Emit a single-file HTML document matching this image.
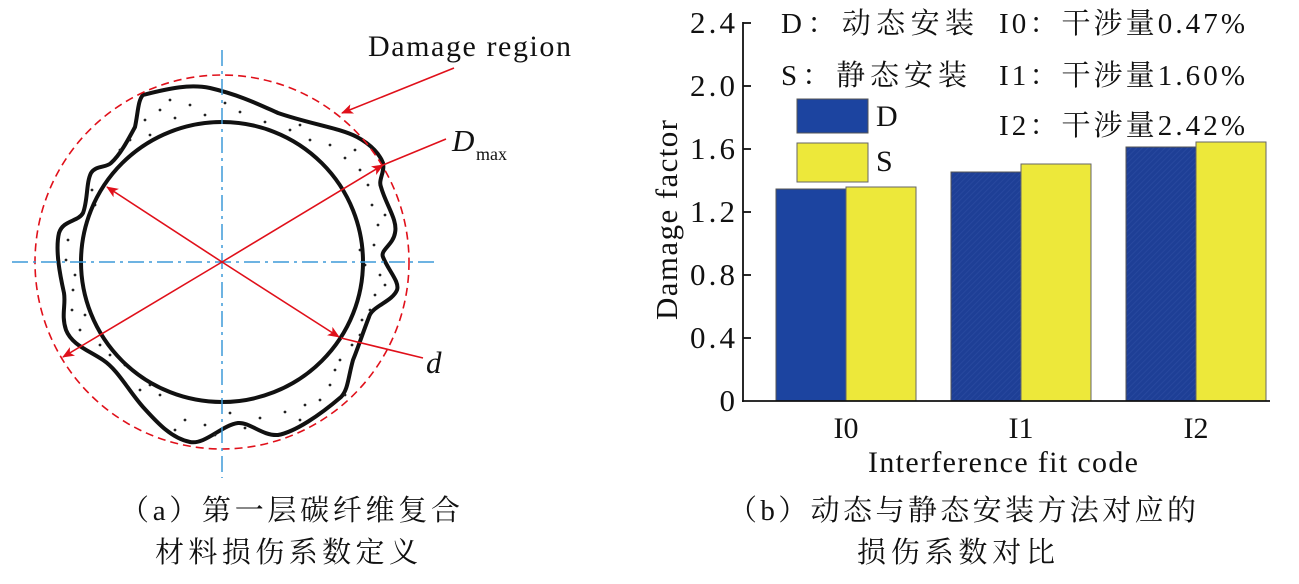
<!DOCTYPE html>
<html><head><meta charset="utf-8"><style>
html,body{margin:0;padding:0;background:#fff;width:1299px;height:584px;overflow:hidden}
svg text{font-family:"Liberation Serif","Noto Serif CJK SC",serif;fill:#111}
</style></head><body>
<svg width="1299" height="584" viewBox="0 0 1299 584" xmlns="http://www.w3.org/2000/svg">
<defs>
<marker id="ah" markerWidth="12" markerHeight="10" refX="11" refY="5" orient="auto" markerUnits="userSpaceOnUse">
<path d="M0,0 L12,5 L0,10 L3,5 Z" fill="#e0101a"/></marker>
<pattern id="hatch" width="4" height="4" patternUnits="userSpaceOnUse" patternTransform="rotate(45)">
<rect width="4" height="4" fill="#1e3f96"/><line x1="0" y1="0" x2="0" y2="4" stroke="#2a4aa0" stroke-width="1.5"/></pattern>
</defs>

<path d="M143,95 C170,88 190,84 210,88 C240,95 260,105 278,113 C310,124 340,128 357,137 C372,145 380,155 383,163 C385,172 378,180 381,187 C386,205 398,220 395,233 C393,245 380,250 383,257 C388,270 400,282 397,290 C392,302 372,306 369,317 C362,335 358,348 353,360 C348,378 348,390 341,397 C320,415 295,432 278,435 C262,436 250,422 238,423 C222,425 205,445 190,442 C170,438 155,420 143,407 C128,390 118,370 103,360 C88,350 72,345 66,330 C61,315 66,305 64,293 C60,275 55,250 59,233 C63,220 78,222 83,213 C88,200 86,183 91,173 C96,165 106,168 111,163 C120,155 128,140 135,127 C138,113 138,100 143,95 Z" fill="#fff" stroke="#111" stroke-width="4"/>
<g fill="#222">
<circle cx="160" cy="110" r="1.4"/><circle cx="175" cy="118" r="1.4"/><circle cx="190" cy="105" r="1.4"/><circle cx="205" cy="115" r="1.4"/><circle cx="240" cy="112" r="1.4"/><circle cx="265" cy="122" r="1.4"/><circle cx="290" cy="130" r="1.4"/><circle cx="310" cy="140" r="1.4"/><circle cx="330" cy="145" r="1.4"/><circle cx="345" cy="158" r="1.4"/><circle cx="360" cy="170" r="1.4"/><circle cx="368" cy="185" r="1.4"/><circle cx="372" cy="205" r="1.4"/><circle cx="378" cy="225" r="1.4"/><circle cx="374" cy="245" r="1.4"/><circle cx="380" cy="275" r="1.4"/><circle cx="375" cy="295" r="1.4"/><circle cx="362" cy="320" r="1.4"/><circle cx="352" cy="345" r="1.4"/><circle cx="335" cy="370" r="1.4"/><circle cx="330" cy="385" r="1.4"/><circle cx="305" cy="405" r="1.4"/><circle cx="285" cy="412" r="1.4"/><circle cx="260" cy="418" r="1.4"/><circle cx="230" cy="413" r="1.4"/><circle cx="205" cy="425" r="1.4"/><circle cx="185" cy="420" r="1.4"/><circle cx="160" cy="395" r="1.4"/><circle cx="150" cy="385" r="1.4"/><circle cx="125" cy="365" r="1.4"/><circle cx="100" cy="345" r="1.4"/><circle cx="80" cy="330" r="1.4"/><circle cx="72" cy="310" r="1.4"/><circle cx="73" cy="290" r="1.4"/><circle cx="66" cy="260" r="1.4"/><circle cx="68" cy="240" r="1.4"/><circle cx="92" cy="190" r="1.4"/><circle cx="120" cy="150" r="1.4"/><circle cx="145" cy="120" r="1.4"/><circle cx="150" cy="135" r="1.4"/><circle cx="360" cy="250" r="1.4"/><circle cx="370" cy="310" r="1.4"/><circle cx="320" cy="400" r="1.4"/><circle cx="345" cy="395" r="1.4"/><circle cx="215" cy="435" r="1.4"/><circle cx="85" cy="315" r="1.4"/>
<circle cx="170" cy="100" r="1.4"/><circle cx="225" cy="103" r="1.4"/><circle cx="300" cy="125" r="1.4"/><circle cx="355" cy="150" r="1.4"/><circle cx="385" cy="215" r="1.4"/><circle cx="365" cy="265" r="1.4"/><circle cx="385" cy="285" r="1.4"/><circle cx="360" cy="335" r="1.4"/><circle cx="340" cy="360" r="1.4"/><circle cx="300" cy="420" r="1.4"/><circle cx="245" cy="428" r="1.4"/><circle cx="175" cy="430" r="1.4"/><circle cx="140" cy="390" r="1.4"/><circle cx="110" cy="355" r="1.4"/><circle cx="75" cy="275" r="1.4"/><circle cx="95" cy="205" r="1.4"/><circle cx="130" cy="140" r="1.4"/>
</g>
<ellipse cx="222" cy="262" rx="141" ry="140" fill="none" stroke="#111" stroke-width="4"/>
<circle cx="222" cy="262" r="187" fill="none" stroke="#e0101a" stroke-width="1.6" stroke-dasharray="8,5"/>
<line x1="222" y1="50" x2="222" y2="478" stroke="#3d9ad8" stroke-width="1.5" stroke-dasharray="16,5,3,5"/>
<line x1="12" y1="262" x2="435" y2="262" stroke="#3d9ad8" stroke-width="1.5" stroke-dasharray="16,5,3,5"/>
<line x1="222" y1="262" x2="383" y2="165" stroke="#e0101a" stroke-width="1.6" marker-end="url(#ah)"/>
<line x1="222" y1="262" x2="63" y2="357" stroke="#e0101a" stroke-width="1.6" marker-end="url(#ah)"/>
<line x1="222" y1="262" x2="107" y2="187" stroke="#e0101a" stroke-width="1.6" marker-end="url(#ah)"/>
<line x1="222" y1="262" x2="339" y2="337" stroke="#e0101a" stroke-width="1.6" marker-end="url(#ah)"/>
<line x1="446" y1="139" x2="383" y2="165" stroke="#e0101a" stroke-width="1.6"/>
<line x1="341" y1="338" x2="423" y2="358" stroke="#e0101a" stroke-width="1.6"/>
<line x1="454" y1="68" x2="342" y2="113" stroke="#e0101a" stroke-width="1.6" marker-end="url(#ah)"/>
<text x="368" y="56" font-size="30" textLength="203">Damage region</text>
<text x="452" y="151" font-size="31" font-style="italic">D</text>
<text x="476" y="160" font-size="18">max</text>
<text x="426" y="373" font-size="31" font-style="italic">d</text>

<g font-size="31">
<text x="690" y="33" textLength="45">2.4</text>
<text x="690" y="96" textLength="45">2.0</text>
<text x="690" y="159" textLength="45">1.6</text>
<text x="690" y="222" textLength="45">1.2</text>
<text x="690" y="285" textLength="45">0.8</text>
<text x="690" y="348" textLength="45">0.4</text>
<text x="735" y="411" text-anchor="end">0</text>
</g>
<rect x="776" y="189" width="70" height="212" fill="#1c44a0" stroke="#555" stroke-width="1"/>
<rect x="846" y="187" width="70" height="214" fill="#ede83a" stroke="#666" stroke-width="1"/>
<rect x="951" y="172" width="70" height="229" fill="url(#hatch)" stroke="#555" stroke-width="1"/>
<rect x="1021" y="164" width="70" height="237" fill="#ede83a" stroke="#666" stroke-width="1"/>
<rect x="1126" y="147" width="70" height="254" fill="url(#hatch)" stroke="#555" stroke-width="1"/>
<rect x="1196" y="142" width="70" height="259" fill="#ede83a" stroke="#666" stroke-width="1"/>
<g stroke="#111" stroke-width="1.8">
<line x1="743" y1="22" x2="743" y2="402"/>
<line x1="742" y1="401" x2="1270" y2="401"/>
<line x1="743" y1="23" x2="751" y2="23"/><line x1="743" y1="86" x2="751" y2="86"/><line x1="743" y1="149" x2="751" y2="149"/><line x1="743" y1="212" x2="751" y2="212"/><line x1="743" y1="275" x2="751" y2="275"/><line x1="743" y1="338" x2="751" y2="338"/>
</g>
<rect x="797" y="99" width="71" height="34" fill="#1c44a0" stroke="#555"/>
<rect x="797" y="143" width="71" height="39" fill="#ede83a" stroke="#666"/>
<text x="876" y="126" font-size="30">D</text>
<text x="876" y="171" font-size="30">S</text>
<g font-size="29">
<text x="781" y="33" textLength="193">D：动态安装</text>
<text x="781" y="85" textLength="186">S：静态安装</text>
<text x="999" y="33" textLength="246">I0：干涉量0.47%</text>
<text x="999" y="85" textLength="246">I1：干涉量1.60%</text>
<text x="999" y="135" textLength="246">I2：干涉量2.42%</text>
</g>
<g font-size="30" text-anchor="middle">
<text x="846" y="438">I0</text>
<text x="1021" y="438">I1</text>
<text x="1196" y="438">I2</text>
</g>
<text x="868" y="472" font-size="30" textLength="270">Interference fit code</text>
<text x="0" y="0" font-size="31" text-anchor="middle" textLength="200" transform="translate(677,220) rotate(-90)">Damage factor</text>

<g font-size="29">
<text x="120" y="520" textLength="340">（a）第一层碳纤维复合</text>
<text x="155" y="562" textLength="263">材料损伤系数定义</text>
<text x="728" y="520" textLength="468">（b）动态与静态安装方法对应的</text>
<text x="857" y="562" textLength="198">损伤系数对比</text>
</g>
</svg>
</body></html>
